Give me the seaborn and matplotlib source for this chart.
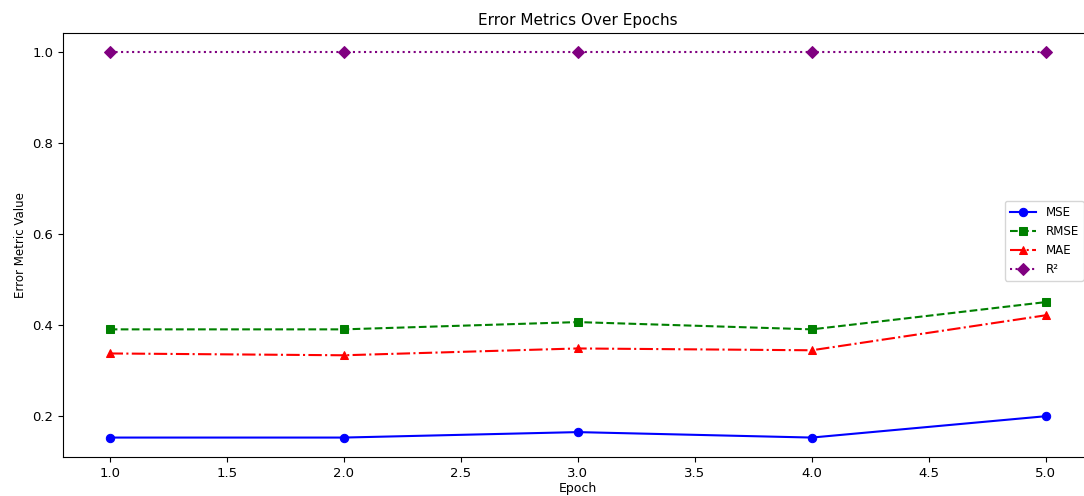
import matplotlib
matplotlib.use("Agg")
import matplotlib.pyplot as plt
import seaborn as sns
import pandas as pd

epochs = [1, 2, 3, 4, 5]
mse = [0.153, 0.153, 0.165, 0.153, 0.200]
rmse = [0.391, 0.391, 0.407, 0.391, 0.451]
mae = [0.338, 0.334, 0.349, 0.345, 0.422]
r2 = [1.0, 1.0, 1.0, 1.0, 1.0]

series = [
    ("MSE", mse, "blue", "-", "o"),
    ("RMSE", rmse, "green", "--", "s"),
    ("MAE", mae, "red", "-.", "^"),
    ("R²", r2, "purple", ":", "D"),
]

fig = plt.figure(figsize=(10.84, 4.96), dpi=100)
ax = fig.add_axes([0.058, 0.079, 0.950, 0.854])

for name, vals, color, ls, mk in series:
    df = pd.DataFrame({"Epoch": epochs, "Value": vals})
    sns.lineplot(data=df, x="Epoch", y="Value", ax=ax, color=color, linestyle=ls,
                 marker=mk, markersize=6, markeredgecolor=color, linewidth=1.5, label=name)

ax.set_xlim(0.8, 5.2)
ax.set_title("Error Metrics Over Epochs", fontsize=11)
ax.set_xlabel("Epoch", fontsize=9, labelpad=2)
ax.set_ylabel("Error Metric Value", fontsize=8.5)
ax.tick_params(labelsize=9.5)
ax.set_xticks([1.0, 1.5, 2.0, 2.5, 3.0, 3.5, 4.0, 4.5, 5.0])
ax.set_xticklabels(["1.0", "1.5", "2.0", "2.5", "3.0", "3.5", "4.0", "4.5", "5.0"])
ax.set_yticks([0.2, 0.4, 0.6, 0.8, 1.0])
ax.set_yticklabels(["0.2", "0.4", "0.6", "0.8", "1.0"])
ax.legend(loc="center right", bbox_to_anchor=(0.997, 0.51), fontsize=8.6,
          handlelength=2.2, labelspacing=0.5)

fig.savefig("out.png", dpi=100)
